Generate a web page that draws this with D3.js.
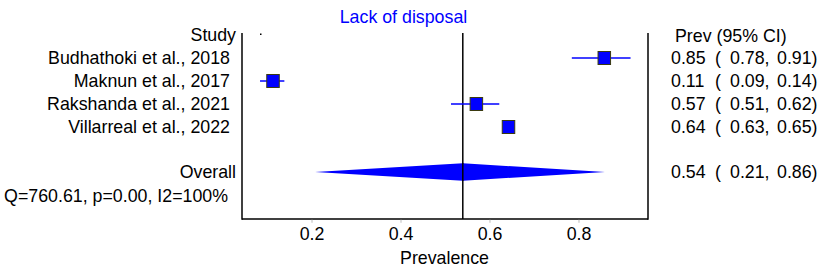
<!DOCTYPE html>
<html><head><meta charset="utf-8">
<script src="https://cdn.jsdelivr.net/npm/d3@7"></script>
<style>
body{margin:0;background:#fff}
text{font-family:"Liberation Sans",Arial,sans-serif;font-size:17.8px;fill:#000}
</style></head>
<body><svg id="c" width="829" height="280"></svg>
<script>
const studies = ["Budhathoki et al., 2018","Maknun et al., 2017","Rakshanda et al., 2021","Villarreal et al., 2022"];
const est = [0.858, 0.1135, 0.5705, 0.6427];
const lower = [0.785, 0.0843, 0.5135, 0.63];
const upper = [0.917, 0.139, 0.622, 0.65];
const estLabels = ["0.85","0.11","0.57","0.64"];
const lowLabels = ["0.78,","0.09,","0.51,","0.63,"];
const upLabels = ["0.91)","0.14)","0.62)","0.65)"];
const overall = {est:0.54, lo:0.2079, hi:0.8596, label:["0.54","0.21,","0.86)"]};
const ticks = [0.2, 0.4, 0.6, 0.8];
const title = "Lack of disposal";
const hetText = "Q=760.61, p=0.00, I2=100%";

const svg = d3.select("#c");
const x = d3.scaleLinear().domain([0.0438, 0.9562]).range([242, 648]);
const y = d3.scaleLinear().domain([0, 1]).range([58, 81]);
const yTop = 33, yBottom = 219;

// title
svg.append("text").attr("x",403.5).attr("y",23).attr("text-anchor","middle").style("fill","#0000ff").text(title);

// axes frame
const g = svg.append("g");
g.append("line").attr("x1",x.range()[0]).attr("x2",x.range()[0]).attr("y1",yTop).attr("y2",yBottom+0.75).attr("stroke","#000").attr("stroke-width",1.5);
g.append("line").attr("x1",x.range()[1]).attr("x2",x.range()[1]).attr("y1",yTop).attr("y2",yBottom+0.75).attr("stroke","#000").attr("stroke-width",1.5);
g.append("line").attr("x1",x.range()[0]).attr("x2",x.range()[1]).attr("y1",yBottom).attr("y2",yBottom).attr("stroke","#000").attr("stroke-width",1.5);

// x axis ticks
const ax = svg.append("g").attr("transform",`translate(0,${yBottom+0.75})`)
  .call(d3.axisBottom(x).tickValues(ticks).tickSize(3).tickPadding(4).tickFormat(d3.format(".1f")));
ax.select(".domain").remove();
ax.selectAll(".tick line").attr("stroke","#bbb");
ax.selectAll(".tick text").style("font-size","17.8px").style("font-family","Liberation Sans, Arial, sans-serif").attr("dy","0").attr("y",20);
svg.append("text").attr("x",444.5).attr("y",264).attr("text-anchor","middle").text("Prevalence");

// overall line
svg.append("line").attr("x1",x(overall.est)).attr("x2",x(overall.est)).attr("y1",yTop).attr("y2",yBottom).attr("stroke","#000").attr("stroke-width",1.5);

// small dot
svg.append("rect").attr("x",x(0.0865)-1).attr("y",33.5).attr("width",1.5).attr("height",1.5).attr("fill","#000");

// headers
svg.append("text").attr("x",236).attr("y",y(-1)).attr("dy","0.35em").attr("text-anchor","end").text("Study");
svg.append("text").attr("x",675).attr("y",y(-1)+1).attr("dy","0.35em").text("Prev (95% CI)");

// study rows
studies.forEach((s,i)=>{
  const yy = y(i);
  svg.append("text").attr("x",230).attr("y",yy).attr("dy","0.35em").attr("text-anchor","end").text(s);
  svg.append("line").attr("x1",x(lower[i])).attr("x2",x(upper[i])).attr("y1",yy).attr("y2",yy).attr("stroke","#0000ff").attr("stroke-width",1.5);
  svg.append("rect").attr("x",x(est[i])-6.25).attr("y",yy-6.5).attr("width",12.5).attr("height",13)
    .attr("fill","#0000ff").attr("stroke","#3a3a10").attr("stroke-width",1);
  const t = svg.append("text").attr("y",yy).attr("dy","0.35em");
  t.append("tspan").attr("x",671).text(estLabels[i]);
  t.append("tspan").attr("x",715).text("(");
  t.append("tspan").attr("x",730).text(lowLabels[i]);
  t.append("tspan").attr("x",777).text(upLabels[i]);
});

// overall
const yo = 172;
svg.append("text").attr("x",236).attr("y",yo).attr("dy","0.35em").attr("text-anchor","end").text("Overall");
svg.append("path").attr("d",`M${x(overall.lo)},${yo} L${x(overall.est)},${yo-8.7} L${x(overall.hi)},${yo} L${x(overall.est)},${yo+8.7} Z`).attr("fill","#0000ff");
svg.append("line").attr("x1",x(overall.est)).attr("x2",x(overall.est)).attr("y1",yo-9).attr("y2",yo+9).attr("stroke","#000").attr("stroke-width",1.5);
const to = svg.append("text").attr("y",yo).attr("dy","0.35em");
to.append("tspan").attr("x",671).text(overall.label[0]);
to.append("tspan").attr("x",715).text("(");
to.append("tspan").attr("x",730).text(overall.label[1]);
to.append("tspan").attr("x",777).text(overall.label[2]);
svg.append("text").attr("x",228).attr("y",yo+24).attr("dy","0.35em").attr("text-anchor","end").text(hetText);
</script></body></html>
